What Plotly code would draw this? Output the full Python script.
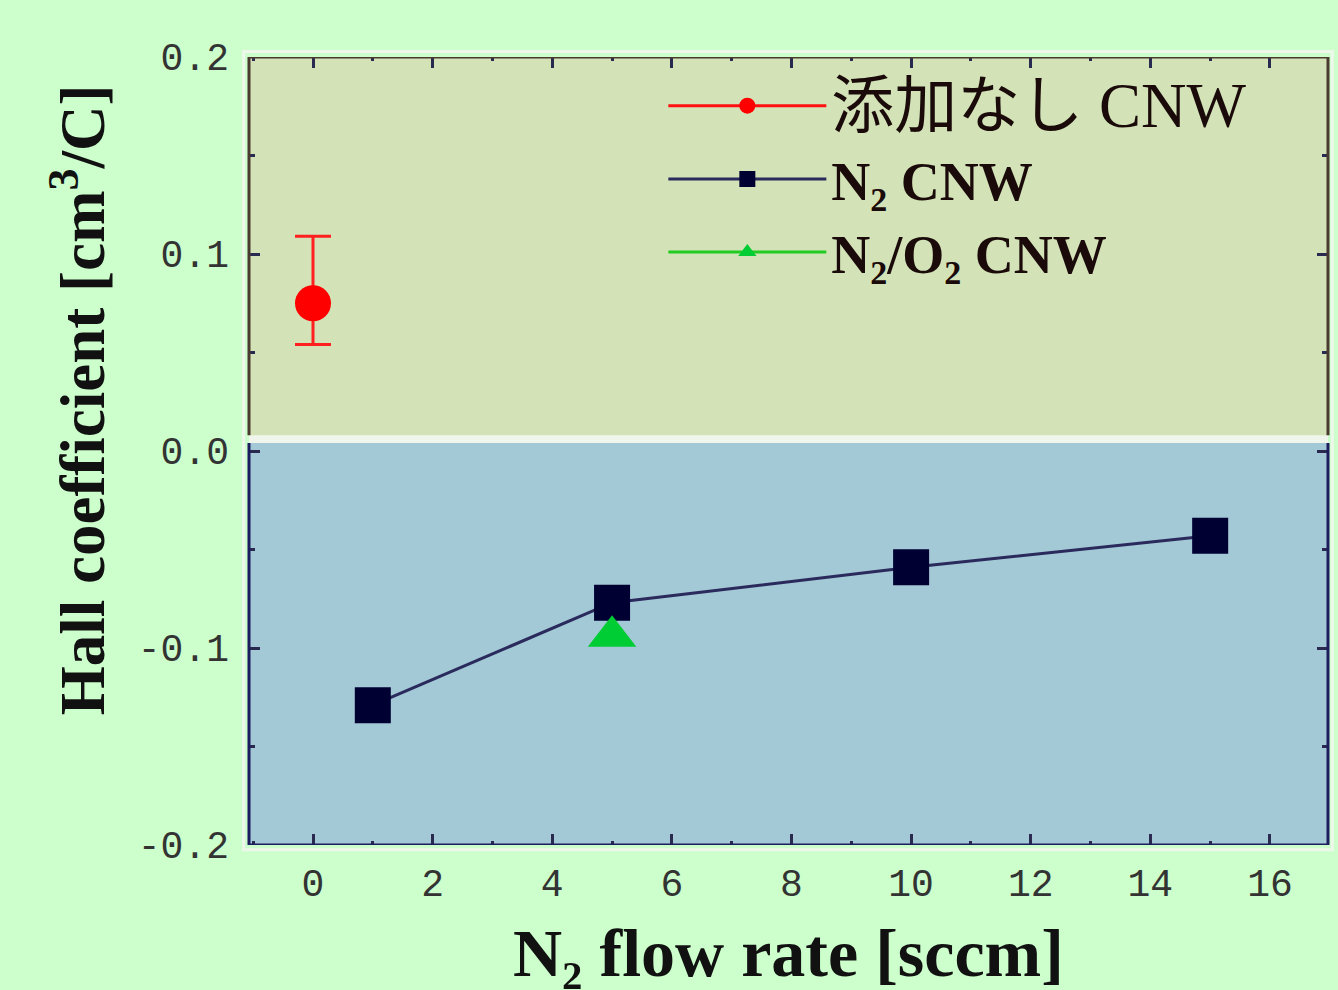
import plotly.graph_objects as go

# ---- data ----
undoped_x = [0]
undoped_y = [0.075]
undoped_err_plus = [0.034]
undoped_err_minus = [0.021]

n2_x = [1, 5, 10, 15]
n2_y = [-0.129, -0.077, -0.059, -0.043]

n2o2_x = [5]
n2o2_y = [-0.094]

x_tick_vals = [0, 2, 4, 6, 8, 10, 12, 14, 16]
y_tick_vals = [-0.2, -0.1, 0.0, 0.1, 0.2]
y_tick_text = ["-0.2", "-0.1", "0.0", "0.1", "0.2"]

SUB = '<sub><span style="font-size:34px">2</span></sub>'
name_undoped = '<span style="font-family:Liberation Serif, Noto Sans CJK JP;font-size:63px;font-weight:normal">添加なし CNW</span>'
name_n2 = f"<b>N{SUB} CNW</b>"
name_n2o2 = f"<b>N{SUB}/O{SUB} CNW</b>"

XR = [-1.07, 16.97]
YR = [-0.2, 0.2]
SPLIT = 0.006

fig = go.Figure()

fig.add_trace(go.Scatter(
    x=undoped_x, y=undoped_y, name=name_undoped, mode="lines+markers",
    line=dict(color="#ff1010", width=3),
    marker=dict(symbol="circle", size=36, color="#ff0000"),
    error_y=dict(type="data", array=undoped_err_plus, arrayminus=undoped_err_minus,
                 color="#ff2020", thickness=3, width=18),
))
fig.add_trace(go.Scatter(
    x=n2_x, y=n2_y, name=name_n2, mode="lines+markers",
    line=dict(color="#2a2a5c", width=3),
    marker=dict(symbol="square", size=36, color="#000033"),
))
fig.add_trace(go.Scatter(
    x=n2o2_x, y=n2o2_y, name=name_n2o2, mode="lines+markers",
    line=dict(color="#22cc22", width=3),
    marker=dict(symbol="triangle-up", size=42, color="#00cc33"),
))

shapes = [
    dict(type="rect", xref="paper", yref="y", x0=0, x1=1, y0=SPLIT + 0.002, y1=YR[1],
         fillcolor="#d3e3b7", line=dict(width=0), layer="below"),
    dict(type="rect", xref="paper", yref="y", x0=0, x1=1, y0=YR[0], y1=SPLIT - 0.002,
         fillcolor="#a3c8d6", line=dict(width=0), layer="below"),
    dict(type="path", xref="paper", yref="y",
         path=f"M 0,{SPLIT + 0.002} L 0,{YR[1]} L 1,{YR[1]} L 1,{SPLIT + 0.002}",
         line=dict(color="#4a3a30", width=3), layer="above"),
    dict(type="path", xref="paper", yref="y",
         path=f"M 0,{SPLIT - 0.002} L 0,{YR[0]} L 1,{YR[0]} L 1,{SPLIT - 0.002}",
         line=dict(color="#1c1c5e", width=3), layer="above"),
    dict(type="rect", xref="paper", yref="paper", x0=-0.005, x1=1.004, y0=-0.006, y1=1.007,
         line=dict(color="#eef8ea", width=3), fillcolor="rgba(0,0,0,0)", layer="below"),
]

tick_font = dict(family="Liberation Mono, DejaVu Sans Mono, monospace", size=38, color="#333333")

fig.update_layout(
    width=1338, height=990,
    paper_bgcolor="#ccffcc",
    plot_bgcolor="#f0f6ec",
    margin=dict(l=249, r=10, t=57, b=145),
    showlegend=True,
    legend=dict(
        x=0.384, y=0.991, xanchor="left", yanchor="top",
        bgcolor="rgba(0,0,0,0)", borderwidth=0,
        font=dict(family="Liberation Serif, Noto Sans CJK JP, serif", size=54, color="#1a0a0a"),
        itemwidth=158, itemsizing="trace", tracegroupgap=0,
    ),
    shapes=shapes,
    annotations=[
        dict(text="<b>Hall coefficient [cm<sup>3</sup>/C]</b>", xref="paper", yref="paper",
             x=-0.158, y=0.565, xanchor="center", yanchor="middle", textangle=-90,
             showarrow=False, font=dict(family="Liberation Serif, serif", size=63, color="#111111")),
        dict(text="<b>N\u2082 flow rate [sccm]</b>",
             xref="paper", yref="paper",
             x=0.50, y=-0.137, xanchor="center", yanchor="middle",
             showarrow=False, font=dict(family="Liberation Serif, DejaVu Serif, serif", size=68, color="#111111")),
    ],
)

fig.update_xaxes(
    range=XR, showgrid=False, zeroline=False, showline=False,
    tickmode="array", tickvals=x_tick_vals,
    ticks="inside", ticklen=11, tickwidth=3, tickcolor="#2a2a50", mirror="allticks",
    minor=dict(ticks="inside", ticklen=4, tickwidth=3, tickcolor="#2a2a50", dtick=1, tick0=0, showgrid=False),
    tickfont=tick_font, ticklabelstandoff=12,
)
fig.update_yaxes(
    range=YR, showgrid=False, zeroline=False, showline=False,
    tickmode="array", tickvals=y_tick_vals, ticktext=y_tick_text,
    ticks="inside", ticklen=11, tickwidth=3, tickcolor="#2a2a50", mirror="allticks",
    minor=dict(ticks="inside", ticklen=6, tickwidth=3, tickcolor="#2a2a50", dtick=0.05, tick0=0, showgrid=False),
    tickfont=tick_font, ticklabelstandoff=19,
)

fig.write_html("out.html", config={"displayModeBar": False})

# remove the default page margin so the figure sits at the window's top-left corner
with open("out.html", "r", encoding="utf-8") as f:
    html = f.read()
html = html.replace("<head>", "<head><style>html,body{margin:0;padding:0;background:#ccffcc;}</style>", 1)
with open("out.html", "w", encoding="utf-8") as f:
    f.write(html)
